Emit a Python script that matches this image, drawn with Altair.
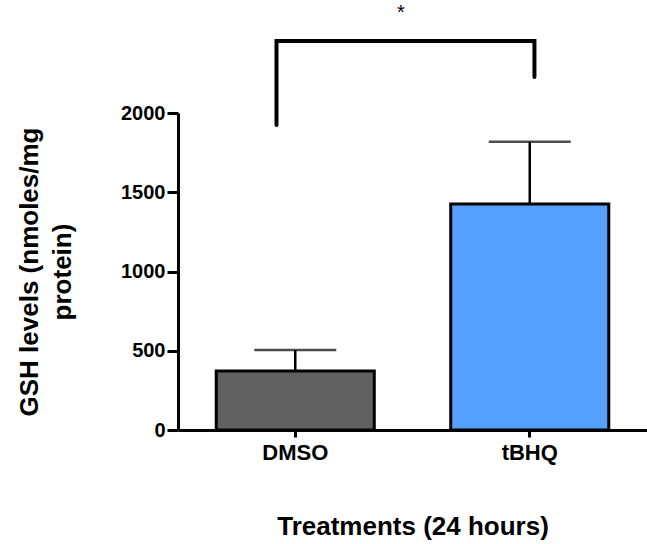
import altair as alt
import pandas as pd

# Data
treatments = ["DMSO", "tBHQ"]
means = [372, 1426]
upper = [505, 1819]          # mean + error
bar_colors = ["#606060", "#559FFD"]

# significance bracket (x in bracket-layer units 0..2 across plot, y in data units)
bracket_x = [0.42, 0.42, 1.52, 1.52]
bracket_y = [1924, 2454, 2454, 2227]
star_x = [0.95]
star_y = [2630]
star_text = ["*"]

df = pd.DataFrame({"treatment": treatments, "mean": means, "upper": upper})
bdf = pd.DataFrame({"bx": bracket_x, "by": bracket_y, "order": list(range(len(bracket_x)))})
sdf = pd.DataFrame({"sx": star_x, "sy": star_y, "t": star_text})

FONT = "Liberation Sans"

yscale = alt.Scale(domain=[0, 2000], nice=False, zero=True)

x_enc = alt.X(
    "treatment:N",
    sort=treatments,
    scale=alt.Scale(paddingInner=0.326, paddingOuter=0.163),
    title="Treatments (24 hours)",
    axis=alt.Axis(
        labelAngle=0, labelFont=FONT, labelFontSize=22, labelFontWeight="bold",
        labelColor="black", labelPadding=5,
        tickSize=7, tickWidth=3, tickColor="black",
        domainWidth=3, domainColor="black",
        titleFont=FONT, titleFontSize=26, titleFontWeight="bold", titleColor="black",
        titlePadding=50,
    ),
)

y_axis = alt.Axis(
    values=[0, 500, 1000, 1500, 2000],
    format="d",
    grid=False,
    labelFont=FONT, labelFontSize=20, labelFontWeight="bold", labelColor="black",
    labelPadding=2,
    tickSize=11, tickWidth=3, tickColor="black",
    domainWidth=3, domainColor="black",
    titleFont=FONT, titleFontSize=26, titleFontWeight="bold", titleColor="black",
    titleLineHeight=33, titlePadding=45,
)

base = alt.Chart(df)

bars = base.mark_bar(stroke="black", strokeWidth=3).encode(
    x=x_enc,
    y=alt.Y("mean:Q", scale=yscale, axis=y_axis,
            title=["GSH levels (nmoles/mg", "protein)"]),
    color=alt.Color("treatment:N", scale=alt.Scale(domain=treatments, range=bar_colors), legend=None),
)

err_stem = base.mark_rule(color="black", strokeWidth=2.5).encode(
    x=alt.X("treatment:N", sort=treatments),
    y=alt.Y("mean:Q"),
    y2="upper:Q",
)

err_cap = base.mark_tick(color="black", thickness=2.5, size=82, orient="horizontal").encode(
    x=alt.X("treatment:N", sort=treatments),
    y=alt.Y("upper:Q"),
)

bracket = alt.Chart(bdf).mark_line(color="black", strokeWidth=4, strokeCap="round").encode(
    x=alt.X("bx:Q", scale=alt.Scale(domain=[0, 2], nice=False, zero=False), axis=None),
    y=alt.Y("by:Q", scale=yscale),
    order="order:O",
)

star = alt.Chart(sdf).mark_text(font=FONT, fontSize=20, color="black").encode(
    x=alt.X("sx:Q", scale=alt.Scale(domain=[0, 2], nice=False, zero=False), axis=None),
    y=alt.Y("sy:Q", scale=yscale),
    text="t:N",
)

main = alt.layer(bars, err_stem, err_cap)
over = alt.layer(bracket, star)

chart = alt.layer(main, over).resolve_scale(x="independent").properties(
    width=469, height=317,
    background="white",
    autosize=alt.AutoSizeParams(type="none"),
    padding={"left": 178, "top": 113, "right": 0, "bottom": 114},
).configure_view(stroke=None, strokeWidth=0)

chart.save("out.html", embed_options={"renderer": "svg", "actions": False})
